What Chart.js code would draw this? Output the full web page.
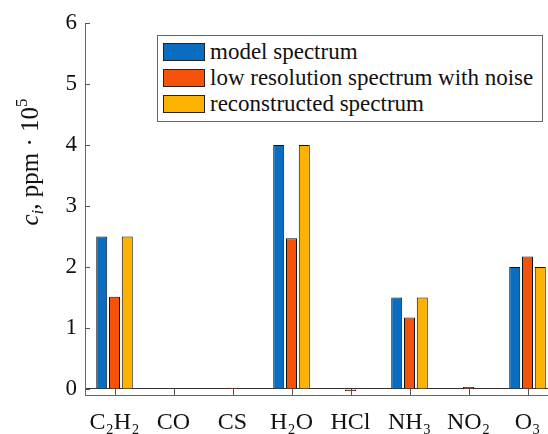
<!DOCTYPE html>
<html>
<head>
<meta charset="utf-8">
<script src="https://cdn.jsdelivr.net/npm/chart.js@4/dist/chart.umd.min.js"></script>
<style>
html, body { margin: 0; padding: 0; background: #fff; overflow: hidden; width: 548px; height: 434px; }
#wrap { position: relative; width: 548px; height: 434px; overflow: hidden; }
#chart { position: absolute; left: 0; top: 0; }
#legend {
    position: absolute; left: 157px; top: 35px; width: 386px; height: 87px;
    border: 1px solid #666; background: #fff; box-sizing: border-box;
    font-family: 'Liberation Serif', serif; font-size: 23px; color: #111; padding-top: 3px;
}
.row { display: flex; align-items: center; height: 26px; white-space: nowrap; }
.sw { width: 42px; height: 18px; border: 1px solid #222; margin-left: 5px; margin-right: 5px; box-sizing: border-box; }
</style>
</head>
<body>
<div id="wrap">
    <canvas id="chart" width="560" height="434"></canvas>
    <div id="legend"></div>
</div>
<script>
// Gaze göre konsantrasyonlar (c_i, ppm·10^5)
const categories = ['C₂H₂', 'CO', 'CS', 'H₂O', 'HCl', 'NH₃', 'NO₂', 'O₃'];
const modelSpectrum = [2.5, 0, 0, 4.0, 0, 1.5, 0, 2.0];
const lowResNoise = [1.51, 0, 0.02, 2.47, -0.04, 1.17, 0.03, 2.17];
const reconstructed = [2.5, 0, 0, 4.0, 0, 1.5, 0, 2.0];
const seriesNames = ['model spectrum', 'low resolution spectrum with noise', 'reconstructed spectrum'];
const yTicks = [0, 1, 2, 3, 4, 5, 6];

const colors = ['#0b6dc0', '#f5520a', '#fdb100'];
const serif = "'Liberation Serif', 'Times New Roman', serif";

// y ekseni başlığı: italik c, alt indis i, üst indis 5
const yTitlePlugin = {
    id: 'yTitle',
    afterDraw(chart) {
        const c = chart.ctx;
        const parts = [
            { t: 'c', f: 'italic 25px ' + serif, dy: 0 },
            { t: 'i', f: 'italic 17px ' + serif, dy: 5 },
            { t: ', ppm · 10', f: '25px ' + serif, dy: 0 },
            { t: '5', f: '17px ' + serif, dy: -11 }
        ];
        c.save();
        let total = 0;
        parts.forEach(p => { c.font = p.f; p.w = c.measureText(p.t).width; total += p.w; });
        c.translate(38, 162);
        c.rotate(-Math.PI / 2);
        c.fillStyle = '#111';
        c.textBaseline = 'alphabetic';
        let x = -total / 2;
        parts.forEach(p => { c.font = p.f; c.fillText(p.t, x, p.dy); x += p.w; });
        c.restore();
    }
};

// MATLAB tarzı içe dönük tik çizgileri
const innerTicksPlugin = {
    id: 'innerTicks',
    afterDatasetsDraw(chart) {
        const c = chart.ctx;
        const xs = chart.scales.x, ys = chart.scales.y;
        const area = chart.chartArea;
        c.save();
        c.strokeStyle = '#555';
        c.lineWidth = 1;
        c.beginPath();
        yTicks.forEach(v => {
            const py = Math.round(ys.getPixelForValue(v)) + 0.5;
            c.moveTo(area.left, py);
            c.lineTo(area.left + 5, py);
        });
        categories.forEach((_, i) => {
            const px = Math.round(xs.getPixelForValue(i)) + 0.5;
            c.moveTo(px, area.bottom);
            c.lineTo(px, area.bottom - 6);
        });
        c.stroke();
        c.restore();
    }
};

const values = [modelSpectrum, lowResNoise, reconstructed];

new Chart(document.getElementById('chart'), {
    type: 'bar',
    data: {
        labels: categories,
        datasets: seriesNames.map((name, i) => ({
            label: name,
            data: values[i],
            backgroundColor: colors[i],
            borderColor: '#111',
            borderWidth: 1,
            borderSkipped: 'start',
            categoryPercentage: 0.65,
            barPercentage: 0.86
        }))
    },
    options: {
        responsive: false,
        animation: false,
        devicePixelRatio: 1,
        layout: { padding: { top: 23, right: 3, left: 0, bottom: 0 } },
        plugins: { legend: { display: false }, tooltip: { enabled: false } },
        scales: {
            x: {
                offset: true,
                grid: { display: false, drawTicks: false },
                border: { display: true, color: '#666', width: 1 },
                ticks: { font: { family: serif, size: 24 }, color: '#111', padding: 13, maxRotation: 0, autoSkip: false },
                afterFit: s => { s.height = 39; }
            },
            y: {
                min: -0.1,
                max: 6,
                afterBuildTicks: s => { s.ticks = yTicks.map(v => ({ value: v })); },
                afterFit: s => { s.width = 85; },
                grid: {
                    drawTicks: false,
                    color: ctx => (ctx.tick && ctx.tick.value === 0) ? '#333' : 'rgba(0,0,0,0)'
                },
                border: { display: true, color: '#666', width: 1 },
                ticks: { font: { family: serif, size: 23 }, color: '#111', padding: 8 }
            }
        }
    },
    plugins: [yTitlePlugin, innerTicksPlugin]
});

// Açıklama kutusu (grafiğin içinde, sağ üstte)
const legendEl = document.getElementById('legend');
seriesNames.forEach((name, i) => {
    const row = document.createElement('div');
    row.className = 'row';
    const sw = document.createElement('div');
    sw.className = 'sw';
    sw.style.background = colors[i];
    const txt = document.createElement('span');
    txt.textContent = name;
    row.appendChild(sw);
    row.appendChild(txt);
    legendEl.appendChild(row);
});
</script>
</body>
</html>
